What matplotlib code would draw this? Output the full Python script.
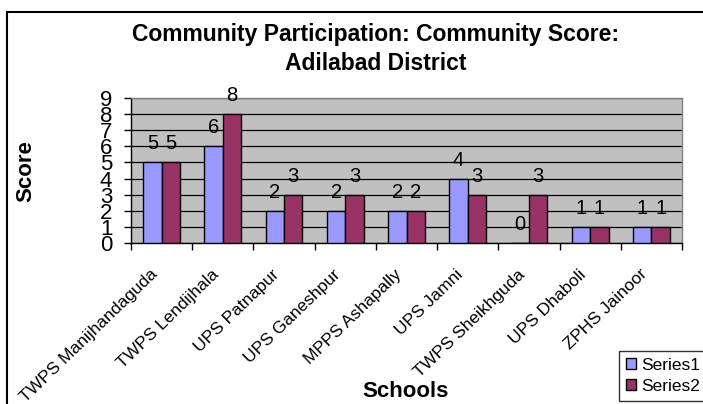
import numpy as np
import matplotlib
matplotlib.use("Agg")
import matplotlib.pyplot as plt
import matplotlib.transforms as mtransforms
from matplotlib.patches import Rectangle

# ---------------- DATA ----------------
schools = ["TWPS Manijhandaguda", "TWPS Lendijhala", "UPS Patnapur",
           "UPS Ganeshpur", "MPPS Ashapally", "UPS Jamni",
           "TWPS Sheikhguda", "UPS Dhaboli", "ZPHS Jainoor"]
series1 = [5, 6, 2, 2, 2, 4, 0, 1, 1]
series2 = [5, 8, 3, 3, 2, 3, 3, 1, 1]
series_names = ["Series1", "Series2"]
y_ticks = list(range(0, 10))
# --------------------------------------

plt.rcParams['font.family'] = ['Liberation Sans', 'DejaVu Sans']

W, H = 703, 404
fig = plt.figure(figsize=(W / 100, H / 100), dpi=100)
fig.patch.set_facecolor("white")

# plot area (pixel box converted to figure fraction)
left, right, top, bottom = 131, 682, 98, 243
ax = fig.add_axes([left / W, 1 - bottom / H, (right - left) / W, (bottom - top) / H])
ax.set_facecolor("#C0C0C0")

x = np.arange(len(schools))
bw = 0.3
b1 = ax.bar(x - bw / 2, series1, bw, color="#9999FF", edgecolor="black", linewidth=1, zorder=3)
b2 = ax.bar(x + bw / 2, series2, bw, color="#993366", edgecolor="black", linewidth=1, zorder=3)

for bars, vals in ((b1, series1), (b2, series2)):
    for rect, v in zip(bars, vals):
        ax.annotate(str(v), (rect.get_x() + rect.get_width() / 2, v),
                    xytext=(0, 9.4), textcoords="offset points",
                    ha="center", va="baseline", fontsize=14.5, zorder=4)

ax.set_xlim(-0.5, len(schools) - 0.5)
ax.set_ylim(0, 9)
ax.set_yticks(y_ticks)
ax.yaxis.grid(True, color="black", linewidth=0.9, zorder=1)
ax.set_axisbelow(True)
ax.tick_params(axis="y", direction="out", length=5, width=1, pad=8.5, labelsize=16)

# Excel style: ticks between categories, labels at centres
ax.set_xticks(np.arange(-0.5, len(schools), 1.0))
ax.set_xticklabels([])
ax.tick_params(axis="x", which="major", direction="out", length=5, width=1)
ax.set_xticks(x, minor=True)
ax.set_xticklabels(schools, minor=True, rotation=44, ha="right", va="top",
                   rotation_mode="anchor", fontsize=12.5)
ax.tick_params(axis="x", which="minor", length=0, pad=17)
shift = mtransforms.ScaledTranslation(-12 / 100, 0, fig.dpi_scale_trans)
for lab in ax.get_xticklabels(minor=True):
    lab.set_transform(lab.get_transform() + shift)

for s in ("left", "bottom"):
    ax.spines[s].set_color("black")
    ax.spines[s].set_linewidth(1)
for s in ("top", "right"):
    ax.spines[s].set_color("#808080")
    ax.spines[s].set_linewidth(1)

# titles
fig.text(376 / W, 1 - 41 / H, "Community Participation: Community Score:",
         ha="center", va="baseline", fontsize=16.5, fontweight="bold")
fig.text(376 / W, 1 - 70 / H, "Adilabad District",
         ha="center", va="baseline", fontsize=16.5, fontweight="bold")
fig.text(26 / W, 1 - 171 / H, "Score", rotation=90, ha="center", va="center",
         fontsize=16, fontweight="bold")
fig.text(406 / W, 1 - 397 / H, "Schools", ha="center", va="baseline",
         fontsize=16, fontweight="bold")

# chart border (cropped on right and bottom)
fig.add_artist(Rectangle((7 / W, -0.2), 1.2, 1 - 12 / H + 0.2, transform=fig.transFigure,
                         fill=False, edgecolor="black", linewidth=1.5))

leg = fig.legend([b1, b2], series_names, loc="upper left",
                 bbox_to_anchor=(619 / W, 1 - 351 / H), fontsize=12.5,
                 frameon=True, fancybox=False, edgecolor="black",
                 handlelength=0.6, handleheight=0.6, handletextpad=0.3,
                 borderpad=0.4, labelspacing=0.35, borderaxespad=0)
leg.get_frame().set_linewidth(1)

fig.savefig("out.png", dpi=100)
